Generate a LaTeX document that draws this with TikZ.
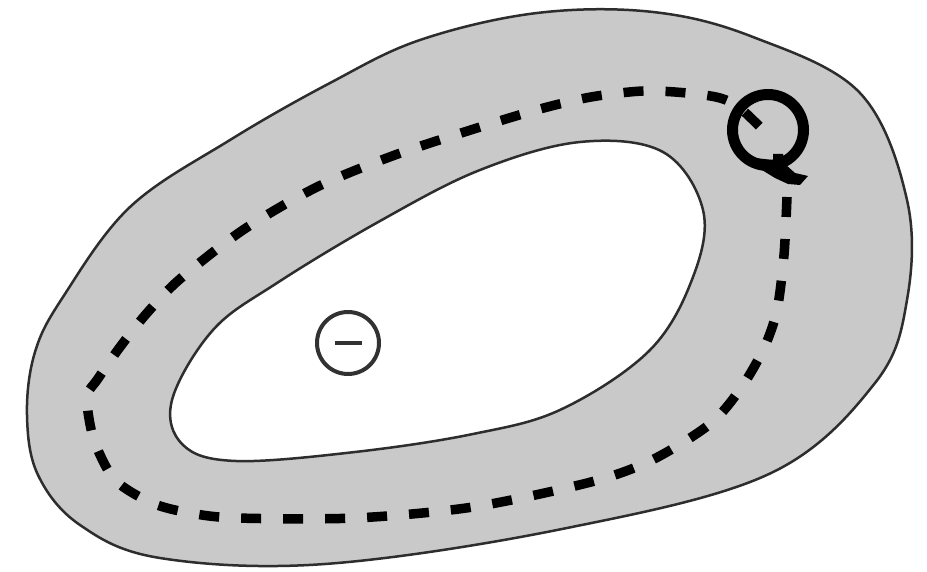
\documentclass[tikz,border=0pt]{standalone}
\begin{document}
\begin{tikzpicture}[x=1pt,y=-1pt,
  ring/.style={fill=ringgray, draw=edgegray, line width=2.5pt},
  hole/.style={fill=white, draw=edgegray, line width=2.5pt},
  loop/.style={line width=9.5pt, dash pattern=on 20pt off 22pt},
  probe/.style={line width=11pt},
  ion/.style={draw=iongray, line width=4pt}]
\definecolor{ringgray}{RGB}{201,201,201}
\definecolor{edgegray}{RGB}{45,45,45}
\definecolor{iongray}{RGB}{50,50,50}
\useasboundingbox (0,0) rectangle (927,572);
\fill[white] (0,0) rectangle (927,572);
% outer boundary of the ring
\draw[ring] plot[smooth cycle, tension=0.6] coordinates {
 (35,352) (63,297) (130,207) (230,140) (330,83) (420,40) (537,13)
 (653,12) (753,37) (860,93) (907,200) (907,300) (875,383) (769,474)
 (562,529) (325,564) (160,558) (80,525) (38,475) (27,415)};
% inner hole
\draw[hole] plot[smooth cycle, tension=0.6] coordinates {
 (172,400) (183,445) (236,461) (355,452) (473,434) (562,409) (650,350)
 (693,277) (703,210) (663,152) (580,142) (480,170) (380,221) (277,283)
 (213,330)};
% negative charge
\node[ion, circle, minimum size=62pt, inner sep=0pt] (q) at (348,343) {};
\draw[iongray, line width=4pt] (335,343) -- (362,343);
% dashed loop
\draw[loop] plot[smooth, tension=0.5] coordinates {
 (787,197) (784,255) (777,310) (764,348) (741,388) (710,424) (652,460)
 (591,482) (473,507) (355,518) (237,518) (190,513) (152,503) (115,480)
 (95,443) (88,412) (88,393) (97,380) (120,347) (147,313) (180,279)
 (243,230) (317,187) (395,155) (477,128) (540,109) (591,97) (643,91)
 (687,93) (720,98) (740,108) (770,137)};
% small probe loop with tail
\node[probe, draw, circle, minimum size=71pt, inner sep=0pt] (c) at (768,130) {};
\fill (755,158) -- (773,160) -- (773,154) -- (783,154) -- (786,165)
  -- (795,173) -- (808,176) -- (800,185) -- (788,184) -- (775,178)
  -- (762,170) -- cycle;
\end{tikzpicture}
\end{document}
